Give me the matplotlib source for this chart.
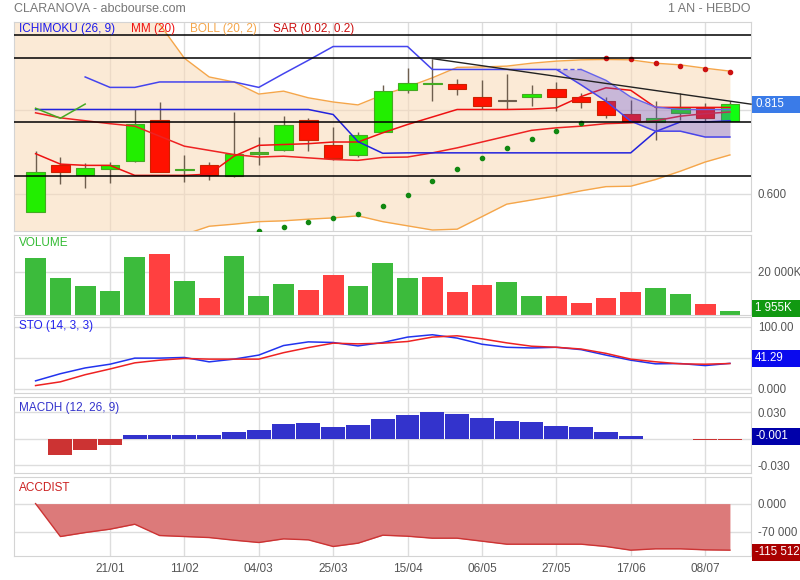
import numpy as np
import matplotlib
matplotlib.use("Agg")
import matplotlib.pyplot as plt
from matplotlib.patches import Rectangle

plt.rcParams['font.family'] = ['Liberation Sans', 'DejaVu Sans']

# weekly candles (31/12 .. 15/07)
opens = [0.557, 0.670, 0.644, 0.660, 0.679, 0.776, 0.656, 0.668, 0.643, 0.696,
         0.705, 0.776, 0.718, 0.692, 0.749, 0.849, 0.862, 0.862, 0.831, 0.822,
         0.832, 0.850, 0.831, 0.822, 0.791, 0.772, 0.793, 0.805, 0.775]
highs = [0.702, 0.688, 0.674, 0.676, 0.802, 0.820, 0.694, 0.676, 0.796, 0.736,
         0.786, 0.781, 0.760, 0.748, 0.861, 0.901, 0.924, 0.874, 0.872, 0.886,
         0.860, 0.868, 0.841, 0.831, 0.825, 0.822, 0.841, 0.817, 0.822]
lows = [0.557, 0.624, 0.614, 0.626, 0.677, 0.653, 0.629, 0.634, 0.641, 0.668,
        0.703, 0.703, 0.681, 0.687, 0.748, 0.842, 0.822, 0.837, 0.802, 0.802,
        0.811, 0.798, 0.805, 0.781, 0.774, 0.728, 0.776, 0.774, 0.775]
closes = [0.651, 0.653, 0.661, 0.670, 0.766, 0.653, 0.659, 0.644, 0.695, 0.699,
          0.764, 0.729, 0.686, 0.740, 0.846, 0.865, 0.865, 0.852, 0.811, 0.822,
          0.838, 0.831, 0.821, 0.789, 0.774, 0.781, 0.805, 0.781, 0.815]

# bollinger (starts one week before first candle)
boll_up = [1.09, 1.08, 1.07, 1.06, 1.05, 1.03, 1.007, 0.925, 0.880, 0.868, 0.839,
           0.846, 0.830, 0.820, 0.813, 0.837, 0.856, 0.878, 0.903, 0.904, 0.906,
           0.913, 0.918, 0.921, 0.922, 0.921, 0.913, 0.909, 0.901, 0.894]
boll_low = [0.47, 0.47, 0.46, 0.46, 0.47, 0.48, 0.49, 0.502, 0.522, 0.527, 0.533,
            0.535, 0.539, 0.542, 0.547, 0.533, 0.523, 0.513, 0.515, 0.545, 0.575,
            0.585, 0.595, 0.607, 0.617, 0.618, 0.634, 0.654, 0.676, 0.693]
mm20 = [0.794, 0.782, 0.775, 0.768, 0.762, 0.738, 0.714, 0.704, 0.694, 0.688,
        0.690, 0.686, 0.682, 0.680, 0.687, 0.688, 0.698, 0.710, 0.724, 0.738,
        0.752, 0.758, 0.762, 0.768, 0.770, 0.775, 0.786, 0.792, 0.796]

# ichimoku
tenkan = [0.696, 0.671, 0.668, 0.668, 0.644, 0.644, 0.644, 0.647, 0.690, 0.716,
          0.718, 0.720, 0.724, 0.724, 0.746, 0.766, 0.784, 0.802, 0.802, 0.802,
          0.803, 0.806, 0.833, 0.854, 0.848, 0.807, 0.807, 0.807, 0.807]
kijun = [0.802, 0.802, 0.802, 0.802, 0.802, 0.802, 0.802, 0.802, 0.802, 0.802,
         0.802, 0.802, 0.790, 0.725, 0.697, 0.698, 0.698, 0.698, 0.698, 0.698,
         0.698, 0.698, 0.698, 0.698, 0.698, 0.749, 0.772, 0.772, 0.775]
span_a = [np.nan, np.nan, 0.880, 0.855, 0.855, 0.868, 0.868, 0.868, 0.868, 0.855,
          0.888, 0.920, 0.953, 0.953, 0.953, 0.953, 0.898, 0.898, 0.898, 0.898,
          0.898, 0.898, 0.861, 0.822, 0.774, 0.750, 0.750, 0.736, 0.736]
span_b = [np.nan] * 21 + [0.898, 0.898, 0.872, 0.832, 0.808, 0.802, 0.802, 0.802]

sar = [np.nan] * 9 + [0.511, 0.521, 0.533, 0.542, 0.551, 0.571, 0.597, 0.631, 0.659,
                      0.686, 0.710, 0.731, 0.750, 0.770,
                      0.926, 0.923, 0.914, 0.907, 0.899, 0.893]
sar_up = [True] * 23 + [False] * 6

levels = [0.981, 0.925, 0.773, 0.643]
trend_pts = [(16, 0.924), (28, 0.822)]

volume = [26510, 17210, 13490, 11160, 26980, 28370, 15810, 7910, 27440, 8840,
          14420, 11630, 18600, 13490, 24190, 17210, 17670, 10700, 13950, 15350,
          8840, 8840, 5580, 7910, 10700, 12560, 9770, 5120, 1955]
vol_up = [1, 1, 1, 1, 1, 0, 1, 0, 1, 1, 1, 0, 0, 1, 1, 1, 0, 0, 0, 1, 1, 0, 0, 0, 0, 1, 1, 0, 1]

sto_k = [13.1, 24.6, 33.9, 39.9, 49.7, 49.7, 50.8, 43.7, 48.1, 54.6, 70.0, 75.9,
         74.9, 69.4, 74.9, 83.6, 87.4, 82.0, 72.1, 67.2, 66.1, 67.2, 63.4, 54.6,
         46.4, 40.5, 41.0, 37.7, 41.29]
sto_d = [5.5, 11.5, 23.0, 32.2, 42.1, 46.4, 49.2, 48.1, 48.1, 48.1, 58.5, 66.7,
         73.8, 72.7, 73.8, 76.5, 83.6, 85.7, 80.8, 74.3, 68.9, 67.2, 64.4, 57.4,
         48.1, 43.8, 40.5, 39.9, 41.0]

macdh = [np.nan, -0.0178, -0.0122, -0.0067, 0.0041, 0.0041, 0.0041, 0.0041, 0.0074,
         0.0096, 0.0167, 0.0178, 0.0141, 0.0163, 0.0229, 0.0274, 0.0300, 0.0285,
         0.0240, 0.0207, 0.0189, 0.0152, 0.0130, 0.0078, 0.0030, 0.0, -0.0004,
         -0.0015, -0.001]

accdist = [0, -81700, -71800, -63500, -51200, -79200, -81700, -84200, -90800, -96500,
           -87500, -89900, -106400, -98200, -78400, -80900, -85800, -85800, -93200,
           -100700, -100700, -100700, -100700, -106400, -115500, -112200, -112200,
           -114700, -115512]

date_idx = [3, 6, 9, 12, 15, 18, 21, 24, 27]
date_labels = ['21/01', '11/02', '04/03', '25/03', '15/04', '06/05', '27/05', '17/06', '08/07']

n = len(closes)
x = np.arange(n)
xb = np.arange(-1, n)
W, H = 800, 580
grid_c = '#dddddd'
lab_c = '#555555'
FS = 8.3


def make_ax(top, bottom):
    ax = fig.add_axes([14 / W, 1 - bottom / H, 737 / W, (bottom - top) / H])
    ax.set_xlim(-0.87, 28.85)
    ax.set_xticks(date_idx)
    ax.tick_params(axis='x', length=0, labelbottom=False)
    ax.yaxis.tick_right()
    ax.tick_params(axis='y', length=0, pad=5, labelsize=FS, labelcolor=lab_c)
    ax.grid(True, color=grid_c, lw=1, zorder=0)
    ax.set_axisbelow(True)
    for s in ax.spines.values():
        s.set_color('#d4d4d4')
    return ax


def value_box(ypix, text, bg):
    # current value tag on the right edge (pixel row of its centre)
    yf = 1 - ypix / H
    fig.add_artist(Rectangle((752 / W, yf - 8.5 / H), 48 / W, 17 / H,
                             transform=fig.transFigure, fc=bg, ec='none', zorder=10))
    fig.text(755 / W, yf, text, color='white', fontsize=FS, va='center', zorder=11)


fig = plt.figure(figsize=(W / 100, H / 100), dpi=100)
fig.text(14 / W, 1 - 9 / H, 'CLARANOVA - abcbourse.com', color='#777777', fontsize=9, va='center')
fig.text(751 / W, 1 - 9 / H, '1 AN - HEBDO', color='#777777', fontsize=9, va='center', ha='right')

# ---- main price panel
ax = make_ax(22, 231)
ax.set_ylim(0.5106, 1.0118)
ax.set_yticks([0.6, 0.8])
ax.set_yticklabels(['0.600', ''])

ax.fill_between(xb, boll_low, boll_up, color='#f9d9b5', alpha=0.55, lw=0, zorder=1)
ax.plot(xb, boll_up, color='#f5a64a', lw=1, zorder=2)
ax.plot(xb, boll_low, color='#f5a64a', lw=1, zorder=2)

o = np.array(opens); c = np.array(closes)
up = c >= o
ax.vlines(x, lows, highs, color='#6e5e4e', lw=1, zorder=3)
body_h = np.maximum(np.abs(c - o), 0.0025)
body_b = np.minimum(o, c)
doji = np.abs(c - o) < 0.004
face = np.where(up, '#22ee00', '#ff1100')
face = np.where(doji & up, '#55aa33', face)
edge = np.where(up, '#44aa22', '#cc2200')
face[19] = '#6e5e4e'; edge[19] = '#6e5e4e'
face[28] = '#11ff11'
ax.bar(x, body_h, bottom=body_b, width=0.74, color=face, edgecolor=edge, lw=0.8, zorder=4)

ax.plot(x, mm20, color='#ee2222', lw=1.1, zorder=5)
ax.plot(x, tenkan, color='#ee1111', lw=1.1, zorder=5)
ax.plot(x, kijun, color='#2222dd', lw=1.1, zorder=5)
ax.plot(x, span_a, color='#4444ee', lw=1.1, zorder=5)
sb = np.array(span_b)
ax.plot(x[21:23], sb[21:23], color='#5555ee', lw=1, ls=(0, (3, 2)), zorder=5)
ax.plot(x[22:], sb[22:], color='#6666ee', lw=1, zorder=5)
ax.fill_between(x[21:], np.array(span_a)[21:], sb[21:], color='#5948dd', alpha=0.31, lw=0, zorder=6)
ax.plot(x[:3], closes[-3:], color='#44aa22', lw=1.1, zorder=5)

sar = np.array(sar); sar_up = np.array(sar_up)
ax.scatter(x[sar_up], sar[sar_up], s=9, color='#118811', zorder=7)
ax.scatter(x[~sar_up], sar[~sar_up], s=9, color='#cc1111', zorder=7)

for lv in levels:
    ax.axhline(lv, color='black', lw=1.1, zorder=8)
(x0, y0), (x1, y1) = trend_pts
slope = (y1 - y0) / (x1 - x0)
ax.plot([x0, 28.85], [y0, y0 + slope * (28.85 - x0)], color='#222222', lw=1, zorder=8, clip_on=False)

for txt, col, px in [('ICHIMOKU (26, 9)', '#1a1aee', 19), ('MM (20)', '#ee1111', 131),
                     ('BOLL (20, 2)', '#f5a64a', 190), ('SAR (0.02, 0.2)', '#cc1111', 273)]:
    ax.text((px - 14) / 737, 1 - 7 / 209, txt, transform=ax.transAxes, color=col,
            fontsize=8.5, va='center', zorder=9)

# ---- volume
axv = make_ax(235, 315)
axv.set_ylim(0, 37200)
axv.set_yticks([20000])
axv.set_yticklabels(['20 000K'])
vcol = ['#3cbb3c' if u else '#ff4040' for u in vol_up]
axv.bar(x, volume, width=0.84, color=vcol, zorder=2)
axv.text(5 / 737, 0.9, 'VOLUME', transform=axv.transAxes, color='#33bb33', fontsize=8.5, va='center')

# ---- stochastic
axs = make_ax(317, 393)
axs.set_ylim(-6.5, 116)
axs.set_yticks([0, 50, 100])
axs.set_yticklabels(['0.000', '', '100.00'])
axs.plot(x, sto_k, color='#2233ee', lw=1.1, zorder=3)
axs.plot(x, sto_d, color='#ee2222', lw=1.1, zorder=3)
axs.text(5 / 737, 0.88, 'STO (14, 3, 3)', transform=axs.transAxes, color='#2222ee', fontsize=8.5, va='center')

# ---- macd histogram
axm = make_ax(397, 473)
axm.set_ylim(-0.0385, 0.0475)
axm.set_yticks([-0.03, 0, 0.03])
axm.set_yticklabels(['-0.030', '', '0.030'])
mh = np.array(macdh)
mcol = np.where(mh >= 0, '#3333cc', '#cc3333')
axm.bar(x, mh, width=0.96, color=mcol, zorder=2)
axm.text(5 / 737, 0.86, 'MACDH (12, 26, 9)', transform=axm.transAxes, color='#3333cc', fontsize=8.5, va='center')

# ---- acc/dist
axa = make_ax(477, 556)
axa.set_ylim(-130000, 66000)
axa.set_yticks([-70000, 0])
axa.set_yticklabels(['-70 000', '0.000'])
axa.fill_between(x, 0, accdist, color='#dc7a7a', lw=0, zorder=2)
axa.plot(x, accdist, color='#cc3333', lw=1, zorder=3)
axa.text(5 / 737, 0.86, 'ACCDIST', transform=axa.transAxes, color='#cc2222', fontsize=8.5, va='center')
axa.tick_params(axis='x', labelbottom=True, labelsize=8.5, labelcolor=lab_c, pad=5)
axa.set_xticklabels(date_labels)

value_box(104, '0.815', '#3a7be8')
value_box(308, '1 955K', '#119911')
value_box(358, '41.29', '#0a0aee')
value_box(436, '-0.001', '#0000aa')
value_box(552, '-115 512', '#aa0000')

fig.savefig('out.png', dpi=100)
